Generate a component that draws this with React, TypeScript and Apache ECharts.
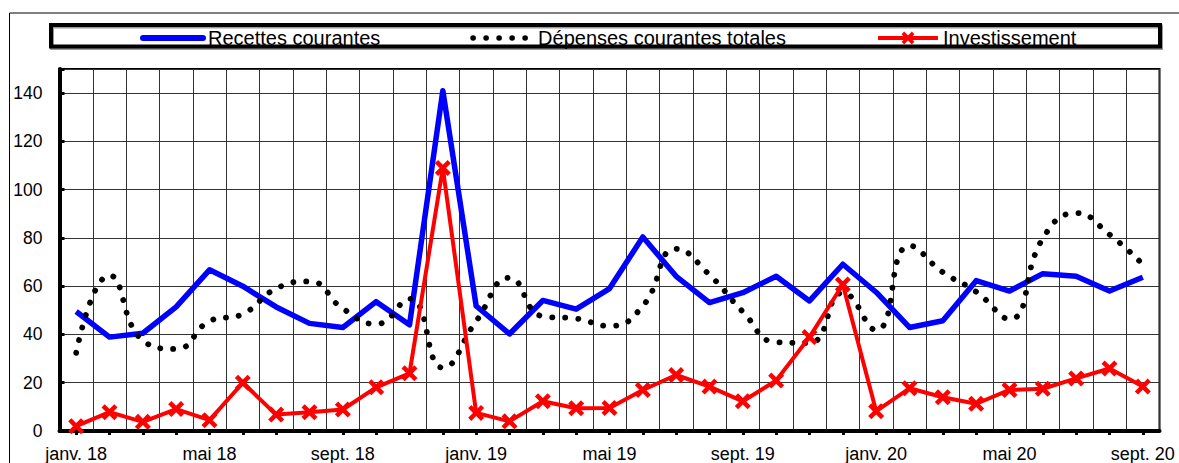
import React, { useEffect, useRef } from "react";
import * as echarts from "echarts";

const months = [
  "janv. 18", "févr. 18", "mars 18", "avr. 18", "mai 18", "juin 18", "juil. 18", "août 18", "sept. 18", "oct. 18", "nov. 18", "déc. 18",
  "janv. 19", "févr. 19", "mars 19", "avr. 19", "mai 19", "juin 19", "juil. 19", "août 19", "sept. 19", "oct. 19", "nov. 19", "déc. 19",
  "janv. 20", "févr. 20", "mars 20", "avr. 20", "mai 20", "juin 20", "juil. 20", "août 20", "sept. 20",
];

const recettes = [
  49.5, 38.9, 40.5, 51.4, 66.8, 60, 51.4, 44.6, 42.9, 53.6, 44, 141,
  51.8, 40.2, 54.1, 50.5, 59, 80.4, 64.1, 53.2, 57.3, 64.1, 53.9, 69.1,
  57.5, 42.9, 45.7, 62.3, 58, 65.2, 64.1, 58, 63.7,
];

const depenses = [
  32.4, 64.5, 37.5, 34, 45.5, 48.5, 59, 62, 50.7, 44.3, 54.8, 26.2,
  45.5, 63.5, 47.5, 46.6, 43.5, 51.8, 75.5, 64.7, 49.4, 36.8, 36.5, 57.3,
  41.8, 76.8, 65.8, 57.7, 46.4, 79.8, 90.3, 81.4, 69,
];

const investissement = [
  2, 7.8, 3.8, 9.1, 4.5, 20, 6.8, 7.8, 8.9, 18.1, 23.9, 109,
  7.5, 4, 12.3, 9.4, 9.5, 17, 23.2, 18.4, 12.3, 20.9, 38.9, 60.7,
  8.2, 17.7, 14, 11.3, 17, 17.5, 21.8, 25.9, 18.4,
];

const seriesNames = ["Recettes courantes", "Dépenses courantes totales", "Investissement"];

const crossPath =
  "path://M0,20L20,0L50,30L80,0L100,20L70,50L100,80L80,100L50,70L20,100L0,80L30,50Z";

const FONT = "'Liberation Sans', Arial, sans-serif";

export default function App() {
  const ref = useRef<HTMLDivElement>(null);

  useEffect(() => {
    document.body.style.margin = "0";
    document.body.style.overflow = "hidden";
    const chart = echarts.init(ref.current!, null, { renderer: "svg" });
    chart.setOption({
      animation: false,
      backgroundColor: "#ffffff",
      textStyle: { fontFamily: FONT },
      grid: {
        left: 59.5,
        top: 69,
        width: 1100,
        height: 366,
        show: true,
        borderColor: "#000",
        borderWidth: 2,
        backgroundColor: "transparent",
      },
      legend: {
        left: 140,
        top: 28,
        padding: 0,
        itemWidth: 60,
        itemHeight: 16,
        itemGap: 90,
        textStyle: { fontSize: 20, color: "#000", fontFamily: FONT },
        data: [
          {
            name: seriesNames[0],
            lineStyle: { width: 6, color: "#0000FF", cap: "round" },
            itemStyle: { opacity: 0, borderWidth: 0 },
          },
          {
            name: seriesNames[1],
            lineStyle: { width: 5.5, color: "#000", cap: "round" },
            itemStyle: { opacity: 0, borderWidth: 0 },
          },
          { name: seriesNames[2], lineStyle: { width: 4, color: "#FF0000" } },
        ],
      },
      xAxis: {
        type: "category",
        data: months,
        boundaryGap: true,
        axisLine: { show: true, lineStyle: { color: "#000", width: 4 } },
        axisTick: {
          show: true,
          alignWithLabel: true,
          interval: 0,
          length: 4,
          lineStyle: { color: "#000", width: 3 },
        },
        axisLabel: { interval: 3, margin: 14, fontSize: 18, color: "#000", fontFamily: FONT },
        splitLine: { show: true, interval: 0, lineStyle: { color: "#333", width: 1 } },
      },
      yAxis: {
        type: "value",
        min: 0,
        max: 150,
        interval: 20,
        axisLine: { show: true, lineStyle: { color: "#000", width: 4 } },
        axisTick: { show: true, inside: true, length: 5, lineStyle: { color: "#000", width: 3 } },
        axisLabel: {
          margin: 17,
          fontSize: 17.5,
          color: "#000",
          fontFamily: FONT,
          formatter: (v: number) => (v === 150 ? "" : String(v)),
        },
        splitLine: { show: true, lineStyle: { color: "#333", width: 1 } },
      },
      series: [
        {
          name: seriesNames[0],
          type: "line",
          data: recettes,
          symbol: "none",
          lineStyle: { color: "#0000FF", width: 5.5, join: "round" },
          itemStyle: { color: "#0000FF" },
        },
        {
          name: seriesNames[1],
          type: "line",
          data: depenses,
          smooth: true,
          symbol: "none",
          lineStyle: { color: "#000", width: 5.8, type: [0.1, 12.9], cap: "round" },
          itemStyle: { color: "#000" },
        },
        {
          name: seriesNames[2],
          type: "line",
          data: investissement,
          symbol: crossPath,
          symbolSize: 16,
          showSymbol: true,
          lineStyle: { color: "#FF0000", width: 4 },
          itemStyle: { color: "#FF0000" },
        },
      ],
      graphic: [
        {
          type: "rect",
          silent: true,
          shape: { x: 9.5, y: 13, width: 1300, height: 600 },
          style: { fill: "none", stroke: "#000", lineWidth: 1 },
        },
        {
          type: "rect",
          silent: true,
          shape: { x: 52, y: 26.5, width: 1109, height: 21.5 },
          style: { fill: "none", stroke: "#999", lineWidth: 4 },
        },
        {
          type: "rect",
          silent: true,
          shape: { x: 51, y: 25, width: 1109, height: 21.5 },
          style: { fill: "none", stroke: "#000", lineWidth: 4 },
        },
      ],
    });
    return () => chart.dispose();
  }, []);

  return <div ref={ref} style={{ width: 1179, height: 463 }} />;
}
